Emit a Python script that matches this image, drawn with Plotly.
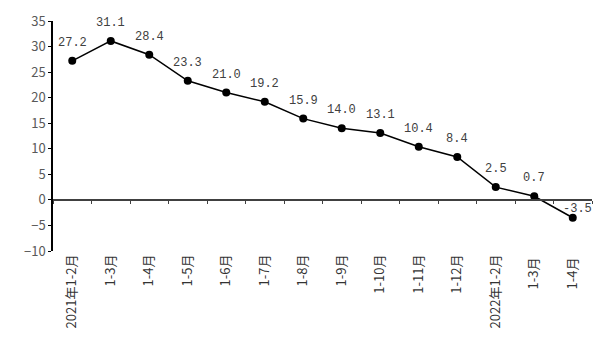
import plotly.graph_objects as go

categories = ["2021年1-2月", "1-3月", "1-4月", "1-5月", "1-6月", "1-7月", "1-8月",
              "1-9月", "1-10月", "1-11月", "1-12月", "2022年1-2月", "1-3月 ", "1-4月 "]
values = [27.2, 31.1, 28.4, 23.3, 21.0, 19.2, 15.9, 14.0, 13.1, 10.4, 8.4, 2.5, 0.7, -3.5]
y_ticks = [-10, -5, 0, 5, 10, 15, 20, 25, 30, 35]

label_font = dict(family="Liberation Mono, DejaVu Sans Mono", size=12, color="#404040")

fig = go.Figure()
fig.add_trace(go.Scatter(
    x=categories, y=values, mode="lines+markers",
    line=dict(color="#000000", width=1.5),
    marker=dict(color="#000000", size=8),
    cliponaxis=False, showlegend=False,
))
# invisible trace to drive the secondary (zero-line) axis
fig.add_trace(go.Scatter(x=categories, y=values, xaxis="x2", mode="none",
                         showlegend=False, hoverinfo="skip"))

for i, (c, v) in enumerate(zip(categories, values)):
    last = i == len(values) - 1
    fig.add_annotation(
        x=c, y=v, text=f"{v:.1f}", showarrow=False,
        xshift=5 if last else 0, yshift=9 if last else 18,
        font=label_font,
    )

# page body has an 8px margin, so the figure is 8px smaller and the margins shifted
fig.update_layout(
    width=600, height=352,
    margin=dict(l=45, r=16, t=13, b=109, autoexpand=False),
    paper_bgcolor="white", plot_bgcolor="white",
    xaxis=dict(
        type="category", range=[-0.5, len(categories) - 0.5],
        showline=False, showgrid=False, zeroline=False, ticks="",
        tickangle=-90, automargin=False,
        tickfont=dict(family="Noto Sans CJK SC", size=13, color="#333333"),
    ),
    xaxis2=dict(
        type="category", range=[-0.5, len(categories) - 0.5],
        overlaying="x", anchor="free",
        position=(0 - y_ticks[0]) / (y_ticks[-1] - y_ticks[0]),
        showline=True, linecolor="#404040", linewidth=1.5,
        ticks="outside", tickson="boundaries", ticklen=3, tickcolor="#404040",
        showticklabels=False, showgrid=False, zeroline=False, automargin=False,
    ),
    yaxis=dict(
        range=[y_ticks[0], y_ticks[-1]], tickvals=y_ticks,
        showline=True, linecolor="#000000", linewidth=1.5,
        ticks="outside", ticklen=3, tickcolor="#000000",
        showgrid=False, zeroline=False, automargin=False,
        tickfont=dict(family="Noto Sans CJK SC", size=13, color="#595959"),
    ),
)

fig.write_html("out.html")
